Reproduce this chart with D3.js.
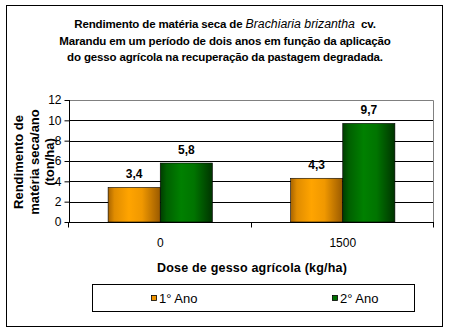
<!DOCTYPE html>
<html>
<head>
<meta charset="utf-8">
<script src="https://cdn.jsdelivr.net/npm/d3@7"></script>
<style>
  html, body { margin: 0; padding: 0; background: #fff; }
  svg { display: block; font-family: "Liberation Sans", Arial, sans-serif; }
</style>
</head>
<body>
<svg id="chart" width="450" height="329"></svg>
<script>
// Doses of gypsum (kg/ha) and yearly dry-matter yield (ton/ha)
const categories = ["0", "1500"];
const seriesNames = ["1° Ano", "2° Ano"];
const ano1 = [3.4, 4.3];
const ano2 = [5.8, 9.7];
const yTicks = [0, 2, 4, 6, 8, 10, 12];

const svg = d3.select("#chart");

// Outer frame
svg.append("rect")
  .attr("x", 6.5).attr("y", 5.5).attr("width", 436).attr("height", 321)
  .attr("fill", "#fff").attr("stroke", "#000").attr("stroke-width", 1);

// Title (species name in italics)
const titleLines = [
  [{t: "Rendimento de matéria seca de ", i: false}, {t: "Brachiaria brizantha", i: true}, {t: "\u00a0 cv.", i: false}],
  [{t: "Marandu em um período de dois anos em função da aplicação", i: false}],
  [{t: "do gesso agrícola na recuperação da pastagem degradada.", i: false}]
];
const title = svg.append("text")
  .attr("text-anchor", "middle").attr("fill", "#000");
titleLines.forEach((parts, li) => {
  const line = title.append("tspan").attr("x", 225).attr("y", 28 + li * 16.5);
  parts.forEach(p => {
    line.append("tspan").text(p.t)
      .attr("font-style", p.i ? "italic" : "normal")
      .attr("font-weight", p.i ? "normal" : "bold")
      .attr("font-size", p.i ? 12.3 : 11.5)
      .attr("letter-spacing", p.i ? 0 : -0.15);
  });
});

// Plot area
const plot = {left: 69, right: 434, top: 100, bottom: 222};

const x = d3.scaleBand().domain(categories).range([plot.left, plot.right]).paddingInner(0).paddingOuter(0);
const y = d3.scaleLinear().domain([0, 12]).range([plot.bottom, plot.top]);
const x1 = d3.scaleBand().domain(seriesNames).range([0, x.bandwidth()]).paddingInner(0).paddingOuter(0.75);

// Gradients for the bars
const defs = svg.append("defs");
function grad(id, stops) {
  const g = defs.append("linearGradient").attr("id", id)
    .attr("x1", "0%").attr("x2", "100%").attr("y1", "0%").attr("y2", "0%");
  stops.forEach(([o, c]) => g.append("stop").attr("offset", o).attr("stop-color", c));
}
grad("gOrange", [["0%", "#a86400"], ["12%", "#e08c00"], ["40%", "#ffa400"], ["65%", "#f09800"], ["100%", "#9a5a00"]]);
grad("gGreen", [["0%", "#003d00"], ["12%", "#006000"], ["40%", "#008000"], ["65%", "#007400"], ["100%", "#003400"]]);
const fills = {"1° Ano": "url(#gOrange)", "2° Ano": "url(#gGreen)"};
const swatch = {"1° Ano": "#f09400", "2° Ano": "#007000"};

// Horizontal gridlines
svg.append("g").selectAll("line")
  .data(yTicks.filter(v => v > 0 && v < 12))
  .join("line")
  .attr("x1", plot.left).attr("x2", plot.right)
  .attr("y1", d => Math.round(y(d)) + 0.5).attr("y2", d => Math.round(y(d)) + 0.5)
  .attr("stroke", "#000");

// Plot border (top, right)
svg.append("path")
  .attr("d", `M${plot.left},${plot.top + 0.5}H${plot.right - 0.5}V${plot.bottom}`)
  .attr("fill", "none").attr("stroke", "#808080");

// Bars
const rows = categories.map((c, i) => ({cat: c, vals: [{s: seriesNames[0], v: ano1[i]}, {s: seriesNames[1], v: ano2[i]}]}));
const groups = svg.append("g").selectAll("g").data(rows).join("g")
  .attr("transform", d => `translate(${x(d.cat)},0)`);
groups.selectAll("rect").data(d => d.vals).join("rect")
  .attr("x", d => x1(d.s))
  .attr("y", d => y(d.v))
  .attr("width", x1.bandwidth())
  .attr("height", d => y(0) - y(d.v))
  .attr("fill", d => fills[d.s])
  .attr("stroke", "#000").attr("stroke-width", 0.6);
groups.selectAll("text").data(d => d.vals).join("text")
  .attr("x", d => x1(d.s) + x1.bandwidth() / 2)
  .attr("y", d => y(d.v) - 9)
  .attr("text-anchor", "middle")
  .attr("font-size", 12).attr("font-weight", "bold")
  .text(d => d3.format(".1f")(d.v).replace(".", ","));

// Y axis
const yAxis = svg.append("g")
  .attr("transform", `translate(${plot.left + 0.5},0)`)
  .call(d3.axisLeft(y).tickValues(yTicks).tickSize(5).tickPadding(3));
yAxis.select(".domain").attr("stroke", "#000").attr("d", `M0,${plot.top}V${plot.bottom}`);
yAxis.selectAll("text").attr("font-size", 12).attr("font-family", "Liberation Sans, Arial, sans-serif").attr("fill", "#000");
yAxis.selectAll(".tick line").attr("stroke", "#000");

// X axis
const xAxis = svg.append("g")
  .attr("transform", `translate(0,${plot.bottom + 0.5})`);
xAxis.append("line").attr("x1", plot.left).attr("x2", plot.right).attr("stroke", "#000");
xAxis.selectAll("line.tk")
  .data([plot.left, ...categories.slice(1).map(c => x(c)), plot.right])
  .join("line").attr("class", "tk")
  .attr("x1", d => Math.round(d) - 0.5).attr("x2", d => Math.round(d) - 0.5)
  .attr("y1", 0).attr("y2", 5).attr("stroke", "#000");
xAxis.selectAll("text").data(categories).join("text")
  .attr("x", d => x(d) + x.bandwidth() / 2)
  .attr("y", 24)
  .attr("text-anchor", "middle").attr("font-size", 12)
  .text(d => d);

// Axis titles
svg.append("text")
  .attr("x", 252).attr("y", 272)
  .attr("text-anchor", "middle").attr("font-size", 12.5).attr("font-weight", "bold")
  .attr("letter-spacing", 0.2)
  .text("Dose de gesso agrícola (kg/ha)");

const yTitle = svg.append("text")
  .attr("transform", "translate(0,162) rotate(-90)")
  .attr("text-anchor", "middle").attr("font-size", 13).attr("font-weight", "bold");
["Rendimento de", "matéria seca/ano", "(ton/ha)"].forEach((t, i) => {
  yTitle.append("tspan").attr("x", 0).attr("y", 23 + i * 15.5).text(t);
});

// Legend
svg.append("rect")
  .attr("x", 92.5).attr("y", 284.5).attr("width", 322).attr("height", 27)
  .attr("fill", "#fff").attr("stroke", "#000");
const legendX = [151, 332];
const leg = svg.append("g").selectAll("g").data(seriesNames).join("g")
  .attr("transform", (d, i) => `translate(${legendX[i]},0)`);
leg.append("rect")
  .attr("x", 0.5).attr("y", 295.5).attr("width", 5).attr("height", 5)
  .attr("fill", d => swatch[d]).attr("stroke", "#000").attr("stroke-width", 0.8);
leg.append("text")
  .attr("x", 8).attr("y", 302.5).attr("font-size", 13)
  .text(d => d);
</script>
</body>
</html>
